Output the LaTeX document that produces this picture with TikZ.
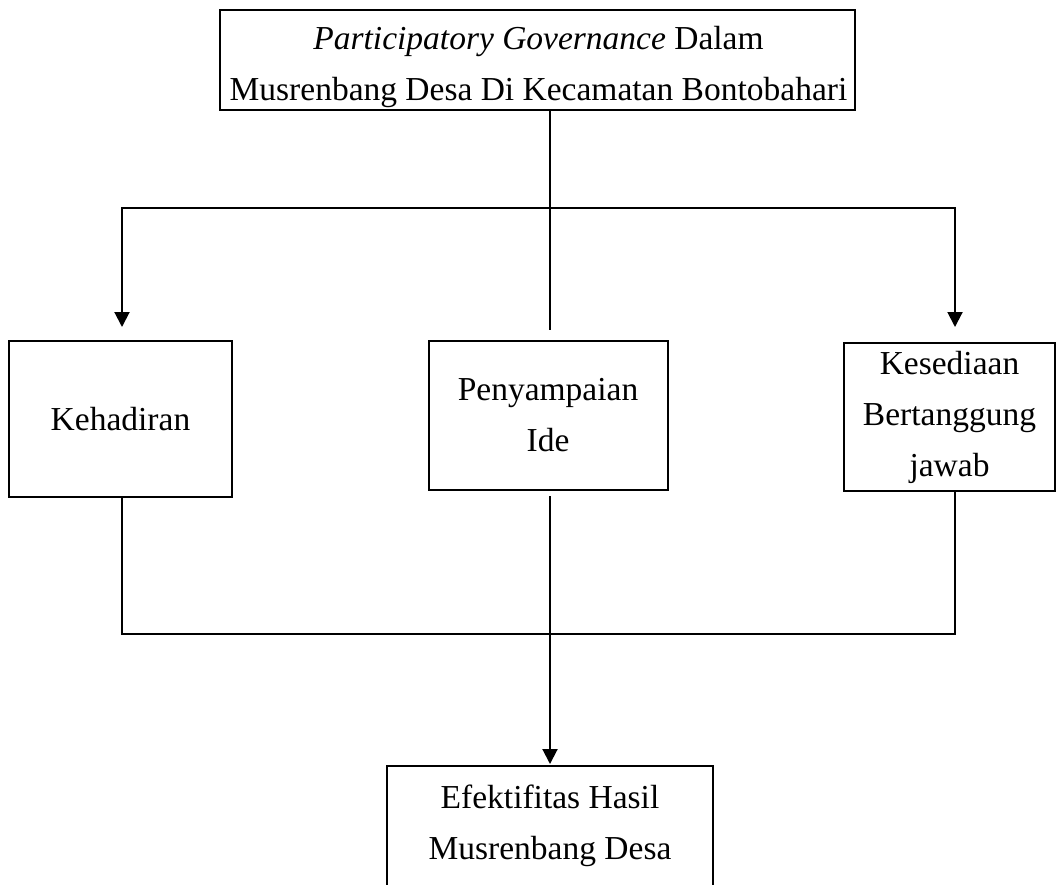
\documentclass[tikz,border=0pt]{standalone}
\usepackage{fontspec}
\setmainfont{Liberation Serif}
\usetikzlibrary{arrows.meta}
\begin{document}
\begin{tikzpicture}[x=1pt,y=-1pt,
  box/.style={draw, line width=2pt, align=center, inner sep=0pt,
    font=\fontsize{33.5}{51}\selectfont},
  conn/.style={line width=2pt},
  arr/.style={line width=2pt, -{Triangle[length=15pt,width=15pt]}}]
\useasboundingbox (0,0) rectangle (1059,884);
\node[box, minimum width=635pt, minimum height=100pt] (top) at (537.5,60) {};
\node[box, draw=none] (toptext) at (538.5,67)
  {\textit{Participatory Governance} Dalam\\Musrenbang Desa Di Kecamatan Bontobahari};
\node[box, minimum width=223pt, minimum height=156pt] (keh) at (120.5,419) {Kehadiran};
\node[box, minimum width=239pt, minimum height=149pt] (pen) at (548,415.5) {Penyampaian\\Ide};
\node[box, minimum width=211pt, minimum height=148pt] (kes) at (949.5,417) {Kesediaan\\Bertanggung\\jawab};
\node[box, draw=none, minimum width=324pt, minimum height=117pt] (eff) at (550,825.5) {Efektifitas Hasil\\Musrenbang Desa};
\draw[conn] (eff.south west) -- (eff.north west) -- (eff.north east) -- (eff.south east);
\coordinate (j1) at (550,208);
\coordinate (cend) at (550,330);
\coordinate (j2) at (550,634);
\draw[conn] (top.south -| j1) -- (cend);
\draw[arr, shorten >=13pt] (j1) -| ([xshift=1.5pt]keh.north);
\draw[arr, shorten >=15pt] (j1) -| ([xshift=5.5pt]kes.north);
\draw[conn] ([xshift=1.5pt]keh.south) |- (j2) -| ([xshift=5.5pt]kes.south);
\draw[arr, shorten >=2pt] (pen.south -| j2) ++(0,5) -- (eff.north);
\end{tikzpicture}
\end{document}
